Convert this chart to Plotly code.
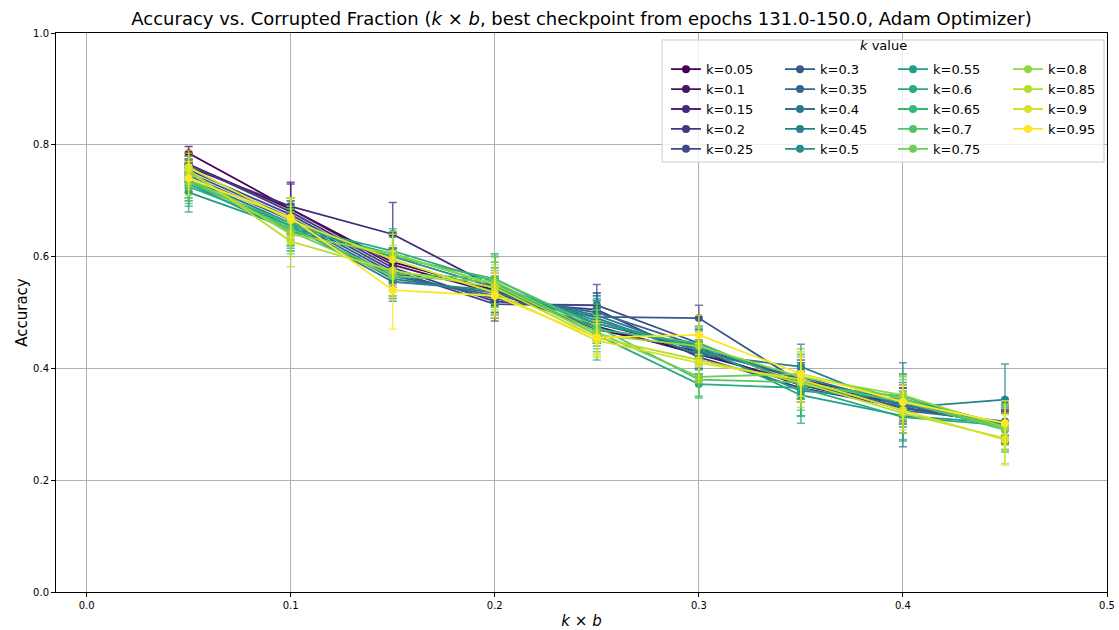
import plotly.graph_objects as go
from plotly.colors import sample_colorscale

x_vals = [0.05, 0.10, 0.15, 0.20, 0.25, 0.30, 0.35, 0.40, 0.45]
k_values = [0.05, 0.1, 0.15, 0.2, 0.25, 0.3, 0.35, 0.4, 0.45, 0.5,
            0.55, 0.6, 0.65, 0.7, 0.75, 0.8, 0.85, 0.9, 0.95]

acc_k005 = [0.785, 0.685, 0.590, 0.540, 0.470, 0.430, 0.370, 0.330, 0.300]
acc_k010 = [0.765, 0.685, 0.585, 0.535, 0.475, 0.425, 0.375, 0.335, 0.298]
acc_k015 = [0.760, 0.690, 0.640, 0.545, 0.480, 0.435, 0.380, 0.340, 0.295]
acc_k020 = [0.765, 0.680, 0.580, 0.520, 0.505, 0.420, 0.365, 0.330, 0.300]
acc_k025 = [0.755, 0.675, 0.575, 0.515, 0.513, 0.445, 0.370, 0.335, 0.297]
acc_k030 = [0.750, 0.670, 0.570, 0.525, 0.492, 0.490, 0.375, 0.330, 0.300]
acc_k035 = [0.745, 0.665, 0.565, 0.530, 0.500, 0.440, 0.380, 0.325, 0.305]
acc_k040 = [0.740, 0.660, 0.560, 0.535, 0.495, 0.430, 0.385, 0.335, 0.300]
acc_k045 = [0.735, 0.655, 0.555, 0.540, 0.490, 0.425, 0.403, 0.330, 0.344]
acc_k050 = [0.730, 0.645, 0.600, 0.545, 0.485, 0.435, 0.360, 0.345, 0.300]
acc_k055 = [0.715, 0.650, 0.605, 0.550, 0.480, 0.440, 0.352, 0.315, 0.302]
acc_k060 = [0.725, 0.655, 0.610, 0.555, 0.460, 0.372, 0.365, 0.313, 0.298]
acc_k065 = [0.730, 0.660, 0.600, 0.560, 0.470, 0.445, 0.370, 0.350, 0.295]
acc_k070 = [0.735, 0.650, 0.570, 0.560, 0.475, 0.380, 0.375, 0.340, 0.290]
acc_k075 = [0.740, 0.645, 0.565, 0.555, 0.465, 0.385, 0.390, 0.345, 0.292]
acc_k080 = [0.750, 0.640, 0.605, 0.550, 0.460, 0.440, 0.385, 0.352, 0.295]
acc_k085 = [0.755, 0.627, 0.575, 0.545, 0.455, 0.415, 0.375, 0.320, 0.275]
acc_k090 = [0.760, 0.665, 0.595, 0.535, 0.450, 0.410, 0.380, 0.325, 0.272]
acc_k095 = [0.740, 0.670, 0.540, 0.530, 0.455, 0.460, 0.390, 0.340, 0.302]

err_k005 = [0.012, 0.020, 0.025, 0.020, 0.025, 0.020, 0.025, 0.025, 0.020]
err_k010 = [0.015, 0.045, 0.030, 0.025, 0.025, 0.025, 0.025, 0.030, 0.025]
err_k015 = [0.020, 0.043, 0.057, 0.025, 0.030, 0.025, 0.030, 0.030, 0.025]
err_k020 = [0.020, 0.025, 0.030, 0.030, 0.030, 0.030, 0.025, 0.030, 0.025]
err_k025 = [0.020, 0.025, 0.030, 0.030, 0.037, 0.030, 0.030, 0.035, 0.030]
err_k030 = [0.025, 0.030, 0.030, 0.035, 0.030, 0.023, 0.030, 0.035, 0.030]
err_k035 = [0.025, 0.030, 0.035, 0.035, 0.035, 0.030, 0.035, 0.040, 0.030]
err_k040 = [0.025, 0.030, 0.035, 0.040, 0.035, 0.030, 0.035, 0.075, 0.035]
err_k045 = [0.030, 0.035, 0.035, 0.040, 0.040, 0.035, 0.040, 0.045, 0.064]
err_k050 = [0.030, 0.035, 0.040, 0.045, 0.040, 0.035, 0.045, 0.045, 0.035]
err_k055 = [0.035, 0.035, 0.040, 0.050, 0.040, 0.035, 0.050, 0.045, 0.035]
err_k060 = [0.035, 0.035, 0.040, 0.045, 0.045, 0.025, 0.050, 0.040, 0.035]
err_k065 = [0.035, 0.040, 0.035, 0.045, 0.040, 0.030, 0.055, 0.040, 0.040]
err_k070 = [0.035, 0.040, 0.040, 0.045, 0.040, 0.030, 0.050, 0.040, 0.040]
err_k075 = [0.035, 0.040, 0.040, 0.045, 0.040, 0.035, 0.045, 0.040, 0.040]
err_k080 = [0.030, 0.040, 0.040, 0.040, 0.035, 0.035, 0.045, 0.035, 0.040]
err_k085 = [0.030, 0.045, 0.045, 0.040, 0.035, 0.035, 0.045, 0.035, 0.045]
err_k090 = [0.030, 0.040, 0.045, 0.040, 0.030, 0.035, 0.040, 0.035, 0.045]
err_k095 = [0.030, 0.035, 0.070, 0.040, 0.030, 0.035, 0.040, 0.030, 0.040]

acc_series = [acc_k005, acc_k010, acc_k015, acc_k020, acc_k025, acc_k030, acc_k035,
              acc_k040, acc_k045, acc_k050, acc_k055, acc_k060, acc_k065, acc_k070,
              acc_k075, acc_k080, acc_k085, acc_k090, acc_k095]
err_series = [err_k005, err_k010, err_k015, err_k020, err_k025, err_k030, err_k035,
              err_k040, err_k045, err_k050, err_k055, err_k060, err_k065, err_k070,
              err_k075, err_k080, err_k085, err_k090, err_k095]

y_ticks = [0.0, 0.2, 0.4, 0.6, 0.8, 1.0]
x_ticks = [0.0, 0.1, 0.2, 0.3, 0.4, 0.5]

n = len(k_values)
colors = sample_colorscale("Viridis", [i / (n - 1) for i in range(n)])


def rgba(c, a):
    nums = c[c.index("(") + 1:c.index(")")].split(",")
    return "rgba(%s,%s,%s,%s)" % (nums[0].strip(), nums[1].strip(), nums[2].strip(), a)


FONT = "DejaVu Sans"
fig = go.Figure()
legend_names = ["legend", "legend2", "legend3", "legend4"]
for i, k in enumerate(k_values):
    col = colors[i]
    fig.add_trace(go.Scatter(
        x=x_vals, y=acc_series[i],
        mode="lines+markers",
        name="k=%g" % k,
        line=dict(color=col, width=1.8),
        marker=dict(color=col, size=8),
        error_y=dict(type="data", array=err_series[i], visible=True,
                     color=rgba(col, 0.75), thickness=1.5, width=4),
        legend=legend_names[i // 5],
    ))

L_MARGIN = 56
R_MARGIN = 12
PLOT_W = 1119 - L_MARGIN - R_MARGIN


def px_to_paper(px):
    return (px - L_MARGIN) / PLOT_W


leg_top = 0.962
leg_left_px = [666, 780, 893, 1008]
layout_legends = {}
for j, name in enumerate(legend_names):
    layout_legends[name] = dict(
        x=px_to_paper(leg_left_px[j]), y=leg_top, xanchor="left", yanchor="top",
        bgcolor="rgba(0,0,0,0)", borderwidth=0,
        font=dict(family=FONT, size=13, color="black"),
        tracegroupgap=0, itemwidth=30,
    )

fig.update_layout(
    width=1119, height=630,
    margin=dict(l=L_MARGIN, r=R_MARGIN, t=33, b=38),
    paper_bgcolor="white", plot_bgcolor="white",
    font=dict(family=FONT, color="black"),
    title=dict(
        text="Accuracy vs. Corrupted Fraction (<i>k</i> × <i>b</i>, best checkpoint from epochs 131.0-150.0, Adam Optimizer)",
        x=0.5, xref="paper", xanchor="center", y=0.970, yref="container", yanchor="middle",
        font=dict(family=FONT, size=18, color="black"),
    ),
    xaxis=dict(
        range=[-0.015, 0.5], tickvals=x_ticks, ticktext=["%.1f" % v for v in x_ticks],
        showgrid=True, gridcolor="#b0b0b0", gridwidth=1,
        showline=True, linecolor="black", linewidth=1, mirror=True,
        ticks="outside", ticklen=4, tickcolor="black",
        tickfont=dict(family=FONT, size=10), ticklabeloverflow="allow",
        title=dict(text="<i>k</i> × <i>b</i>", font=dict(family=FONT, size=15), standoff=6),
        zeroline=False, automargin=False,
    ),
    yaxis=dict(
        range=[0, 1], tickvals=y_ticks, ticktext=["%.1f" % v for v in y_ticks],
        showgrid=True, gridcolor="#b0b0b0", gridwidth=1,
        showline=True, linecolor="black", linewidth=1, mirror=True,
        ticks="outside", ticklen=4, tickcolor="black",
        tickfont=dict(family=FONT, size=10),
        title=dict(text="Accuracy", font=dict(family=FONT, size=15), standoff=1),
        zeroline=False, automargin=False,
    ),
    shapes=[dict(
        type="rect", xref="paper", yref="paper",
        x0=px_to_paper(662), x1=px_to_paper(1104), y0=0.769, y1=0.9875,
        fillcolor="rgba(255,255,255,0.8)", line=dict(color="#cccccc", width=1),
        layer="above",
    )],
    annotations=[dict(
        text="<i>k</i> value", xref="paper", yref="paper",
        x=px_to_paper(883), y=0.977, xanchor="center", yanchor="middle", showarrow=False,
        font=dict(family=FONT, size=13, color="black"),
    )],
    **layout_legends,
)

fig.write_html("out.html", config={"displayModeBar": False},
               post_script="document.body.style.margin='0';")
